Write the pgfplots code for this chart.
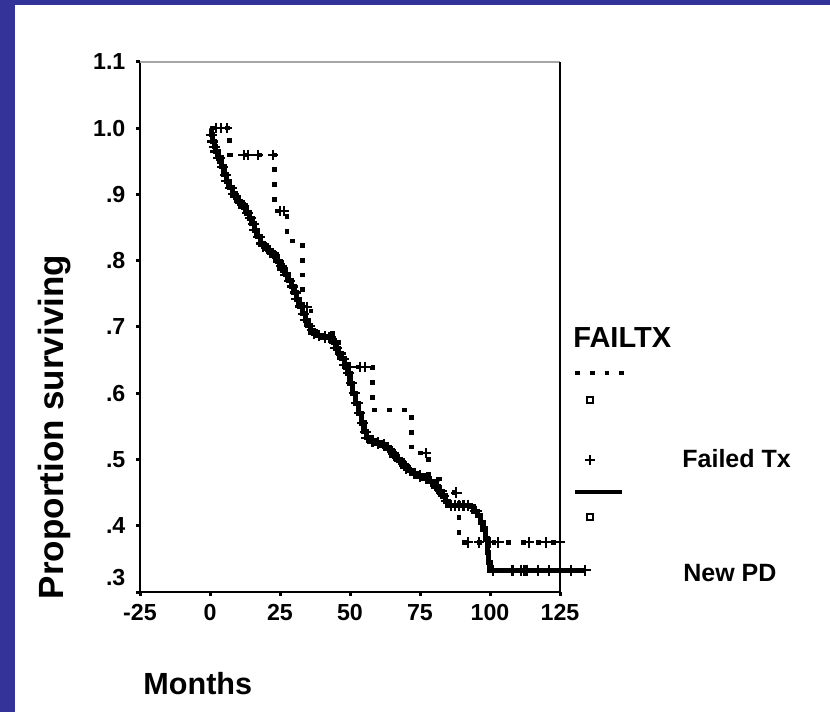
\documentclass[border=0pt]{standalone}
\usepackage{pgfplots}
\pgfplotsset{compat=1.18}
\usepackage{fontspec}
\setmainfont{Liberation Sans}
\definecolor{navy}{RGB}{51,51,153}
\begin{document}
\begin{tikzpicture}
\fill[navy] (0,0) rectangle (415bp,356bp);
\fill[white] (7.5bp,0) rectangle (415bp,353.5bp);
\begin{axis}[
  at={(70bp,60bp)}, anchor=south west,
  scale only axis, width=210bp, height=265bp,
  xmin=-25, xmax=125, ymin=0.3, ymax=1.1,
  clip=false,
  axis line style={draw=none},
  xtick={-25,0,25,50,75,100,125},
  xticklabels={-25,0,25,50,75,100,125},
  ytick={0.4,0.5,0.6,0.7,0.8,0.9,1.0,1.1},
  yticklabels={.4,.5,.6,.7,.8,.9,1.0,1.1},
  extra y ticks={0.3}, extra y tick labels={.3},
  extra y tick style={yticklabel style={yshift=7bp}},
  tick align=outside, tick pos=left,
  major tick length=1.8bp,
  every tick/.style={black, line width=1.5bp},
  ticklabel style={font=\fontsize{11.6bp}{13bp}\selectfont\bfseries},
  yticklabel style={xshift=-2bp},
  xticklabel style={yshift=-1bp},
]
\draw[black, line width=1.3bp] (rel axis cs:0,0) -- (rel axis cs:0,1);
\draw[black, line width=1bp] (rel axis cs:0,0) -- (rel axis cs:1,0);
\draw[gray!70, line width=1bp] (rel axis cs:0,1) -- (rel axis cs:1,1);
\draw[black, line width=0.8bp] (rel axis cs:1,0) -- (rel axis cs:1,1);
% Failed Tx
\addplot[const plot, black, line width=2.2bp, dash pattern=on 2.4bp off 5bp] coordinates {
(0,1.0) (7,0.96) (23,0.875) (27.5,0.83) (33,0.73) (36,0.69) (46,0.64) (58,0.575)
(72,0.51) (78,0.47) (82,0.45) (89,0.375) (125,0.375)};
\addplot[only marks, mark=+, mark size=2.6bp, black, line width=1bp] coordinates {
(2,1.0) (4,1.0) (6,1.0) (12,0.96) (13.5,0.96) (17,0.96) (22.5,0.96) (25,0.875) (26.5,0.875)
(34.5,0.73) (50,0.64) (53.5,0.64) (55.5,0.64) (77,0.51) (88,0.45) (92,0.375) (96,0.375)
(100,0.375) (103,0.375) (114,0.375) (120,0.375) (125,0.375)};
% New PD
\addplot[const plot, black, line width=2.6bp] coordinates {
(0,1.000) (0.5,0.990) (1,0.980) (1.5,0.972) (2,0.965) (3,0.955) (4,0.942) (5,0.930)
(6,0.920) (7,0.910) (8,0.901) (9,0.896) (10,0.890) (11,0.885) (12,0.880) (13,0.872)
(14,0.864) (15,0.856) (16,0.846) (17,0.836) (18,0.826) (19,0.822) (20,0.818) (21,0.815)
(22,0.811) (23,0.806) (24,0.799) (25,0.792) (26,0.786) (27,0.779) (28,0.770) (29,0.761)
(30,0.752) (31,0.742) (32,0.731) (33,0.720) (34,0.710) (35,0.702) (36,0.695) (37,0.690)
(38,0.687) (40,0.685) (42,0.684) (43,0.682) (44,0.676) (45,0.668) (46,0.660) (47,0.652)
(48,0.643) (49,0.630) (50,0.615) (51,0.600) (52,0.585) (53,0.570) (54,0.555) (55,0.542)
(56,0.533) (57,0.528) (59,0.525) (61,0.522) (63,0.518) (64,0.514) (65,0.509) (66,0.504)
(67,0.500) (68,0.496) (69,0.491) (70,0.487) (71,0.483) (72,0.479) (74,0.475) (76,0.471)
(78,0.467) (80,0.462) (81,0.457) (82,0.452) (83,0.445) (84,0.437) (85,0.431) (93,0.429)
(94,0.422) (95.5,0.415) (96.5,0.405) (97.5,0.395) (98.3,0.380) (99,0.360) (99.5,0.345)
(100,0.333) (134,0.333)};
\addplot[only marks, mark=+, mark size=2.8bp, black, line width=1.1bp] coordinates {
(0.5,0.99) (1,0.98) (1.5,0.972) (2,0.965) (3,0.955) (3.5,0.955) (4.5,0.942) (5.5,0.93) (6,0.92) (7.5,0.91) (8.5,0.901) (9,0.896) (10.5,0.89)
(11.5,0.885) (12,0.88) (13.5,0.872) (14.5,0.864) (15.5,0.856) (16,0.846) (17.5,0.836) (18.5,0.826) (19,0.822) (20.5,0.818)
(21.5,0.815) (22.5,0.811) (23,0.806) (24.5,0.799) (25.5,0.792) (26,0.786) (27,0.779) (28.5,0.77) (29.5,0.761) (30.5,0.752)
(31,0.742) (32.5,0.731) (33.5,0.72) (34,0.71) (35.5,0.702) (36.5,0.695) (37,0.69) (39,0.687) (41,0.685)
(42.5,0.684) (43.5,0.682) (44.5,0.676) (45,0.668) (46.5,0.66) (47.5,0.652) (48,0.643) (49.5,0.63) (50.5,0.615) (51.5,0.6)
(52.5,0.585) (53.5,0.57) (54.5,0.555) (55.5,0.542) (56,0.533) (58,0.528) (60,0.525) (62,0.522) (63.5,0.518) (64.5,0.514) (65.5,0.509) (66,0.504)
(67.5,0.5) (68.5,0.496) (69.5,0.491) (70,0.487) (71.5,0.483) (73,0.479) (75,0.475) (77,0.471) (79,0.467)
(80.5,0.462) (81,0.457) (82.5,0.452) (83.5,0.445) (84.5,0.437) (86,0.431) (87.5,0.431) (89,0.431) (90.5,0.431) (92,0.431)
(95,0.422) (101,0.333) (108,0.333) (111,0.333) (112,0.333) (113,0.333) (117,0.333)
(121,0.333) (125,0.333) (129,0.333) (134,0.333)};
\end{axis}
\begin{scope}[x=0.5bp,y=-0.5bp,shift={(0,356bp)}]
\node[anchor=base west, inner sep=0, font=\fontsize{14.5bp}{16bp}\selectfont\bfseries] at (573,348) {FAILTX};
\draw[line width=2.2bp, dash pattern=on 2.4bp off 5bp] (575,373) -- (626,373);
\draw[line width=0.7bp] (587,397) rectangle (593,403);
\draw[line width=1bp] (585,460) -- (595,460) (590,455) -- (590,465);
\node[anchor=base west, inner sep=0, font=\fontsize{12.5bp}{14bp}\selectfont\bfseries] at (682,468) {Failed Tx};
\draw[line width=2.2bp] (575,492) -- (622,492);
\draw[line width=0.7bp] (587,514) rectangle (593,520);
\node[anchor=base west, inner sep=0, font=\fontsize{12.5bp}{14bp}\selectfont\bfseries] at (683,582) {New PD};
\node[anchor=base, rotate=90, inner sep=0, font=\fontsize{17.5bp}{19bp}\selectfont\bfseries] at (63,427) {Proportion surviving};
\node[anchor=base west, inner sep=0, font=\fontsize{15.3bp}{17bp}\selectfont\bfseries] at (143,695) {Months};
\end{scope}
\pgfresetboundingbox
\useasboundingbox (0,0) rectangle (415bp,356bp);
\end{tikzpicture}
\end{document}
